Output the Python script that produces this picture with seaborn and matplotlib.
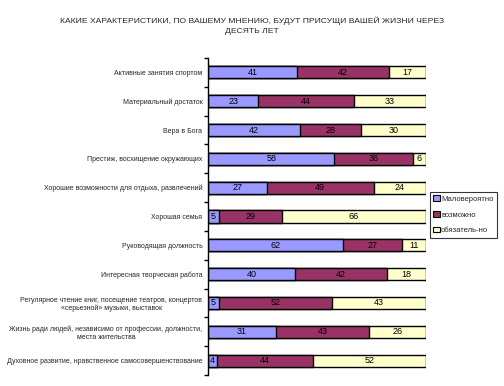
import matplotlib
matplotlib.use("Agg")
import matplotlib.pyplot as plt
from matplotlib.patches import Patch
import seaborn as sns
import pandas as pd
import numpy as np

categories = [
    "Активные занятия спортом",
    "Материальный достаток",
    "Вера в Бога",
    "Престиж, восхищение окружающих",
    "Хорошие возможности для отдыха, развлечений",
    "Хорошая семья",
    "Руководящая должность",
    "Интересная творческая работа",
    "Регулярное чтение книг, посещение театров, концертов\n«серьезной» музыки, выставок",
    "Жизнь ради людей, независимо от профессии, должности,\nместа жительства",
    "Духовное развитие, нравственное самосовершенствование",
]
unlikely = [41, 23, 42, 58, 27, 5, 62, 40, 5, 31, 4]
possible = [42, 44, 28, 36, 49, 29, 27, 42, 52, 43, 44]
required = [17, 33, 30, 6, 24, 66, 11, 18, 43, 26, 52]
series_names = ["Маловероятно", "возможно", "обязатель-но"]
colors = ["#9999FF", "#993366", "#FFFFCC"]
title = "КАКИЕ ХАРАКТЕРИСТИКИ, ПО ВАШЕМУ МНЕНИЮ, БУДУТ ПРИСУЩИ ВАШЕЙ ЖИЗНИ ЧЕРЕЗ\nДЕСЯТЬ ЛЕТ"

sns.set_theme(style="white")
plt.rcParams['font.family'] = ['Liberation Sans', 'DejaVu Sans']

u = np.array(unlikely); p = np.array(possible); r = np.array(required)
cum1 = u
cum2 = u + p
cum3 = u + p + r

fig = plt.figure(figsize=(5.04, 3.86), dpi=100)
ax = fig.add_axes([208/504, 1-375/386, (426-208)/504, (375-58)/386])

for vals, col in [(cum3, colors[2]), (cum2, colors[1]), (cum1, colors[0])]:
    df = pd.DataFrame({"cat": categories, "val": vals})
    sns.barplot(data=df, x="val", y="cat", order=categories, color=col,
                saturation=1, width=0.42, edgecolor="black", linewidth=1.0, ax=ax)

for i in range(len(categories)):
    starts = [0, u[i], u[i] + p[i]]
    for s, v in zip(starts, [u[i], p[i], r[i]]):
        ax.text(s + v / 2, i, str(v), ha="center", va="center", fontsize=6.5, color="black")

ax.set_xlim(0, 100)
ax.set_ylim(len(categories) - 0.5, -0.5)
ax.set_xlabel(""); ax.set_ylabel("")
ax.set_xticks([])
for s in ["top", "right", "bottom"]:
    ax.spines[s].set_visible(False)
ax.spines["left"].set_color("black")
ax.spines["left"].set_linewidth(1.0)
ax.set_yticks(range(len(categories)))
ax.set_yticklabels(categories, fontsize=5.0, multialignment="center")
ax.tick_params(axis="y", which="major", length=0, pad=4)
ax.set_yticks(np.arange(-0.5, len(categories), 1.0), minor=True)
ax.tick_params(axis="y", which="minor", length=3, width=1, color="black", left=True)

fig.text(252/504, 1-26/386, title, ha="center", va="center", fontsize=6.1, linespacing=1.7)

handles = [Patch(facecolor=c, edgecolor="black", linewidth=0.8) for c in colors]
leg = fig.legend(handles, series_names, loc="upper left", bbox_to_anchor=(430/504, 1-192/386),
                 fontsize=5.5, frameon=True, fancybox=False, handlelength=0.8, handleheight=0.8,
                 handletextpad=0.2, borderpad=0.45, labelspacing=1.05, borderaxespad=0)
leg.get_frame().set_edgecolor("black")
leg.get_frame().set_linewidth(0.8)

fig.savefig("out.png", dpi=100)
